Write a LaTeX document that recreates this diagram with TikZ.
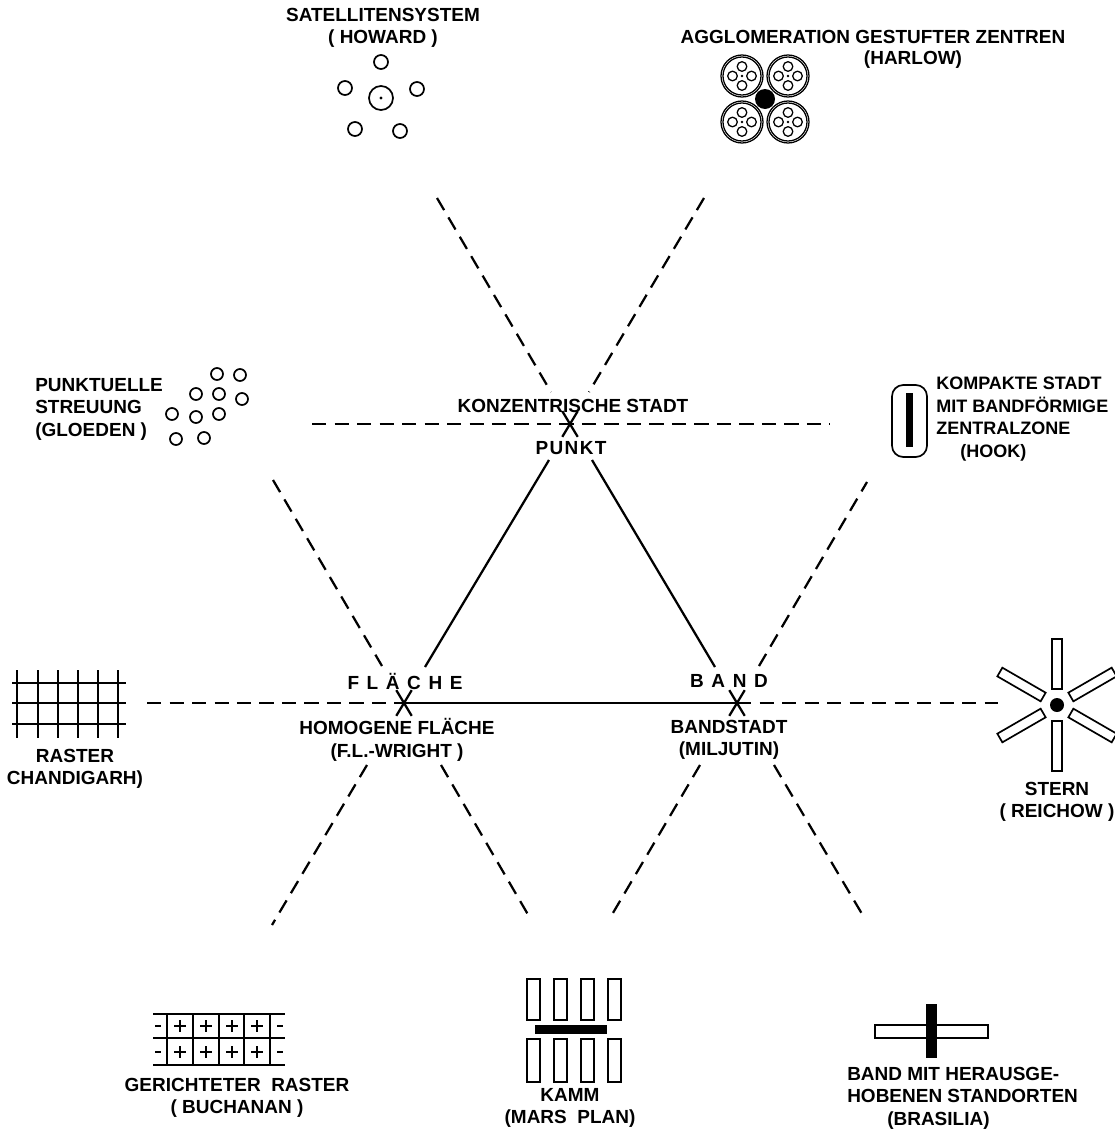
\documentclass[tikz,border=0pt]{standalone}
\usepackage{fontspec}
\setmainfont{Liberation Sans}
\usepackage{tikz}
\usetikzlibrary{calc,positioning}

\newcommand{\lgap}{\hspace{0.19cm}}

\begin{document}
\begin{tikzpicture}[x=0.025cm,y=-0.025cm,
  lab/.style={font=\fontsize{13.5}{16}\selectfont\bfseries, align=center, inner sep=0pt},
  strich/.style={line width=1.6pt, dash pattern=on 10pt off 6pt},
  voll/.style={line width=1.6pt},
  figur/.style={line width=1.2pt}]

\useasboundingbox (0,0) rectangle (1115,1131);

% die drei Grundformen
\coordinate (P) at (570,424);
\coordinate (F) at (404,703);
\coordinate (B) at (737,703);

% Enden der gestrichelten Linien
\coordinate (ol1) at (437,198);  \coordinate (ol2) at (551,392);
\coordinate (or1) at (704,198);  \coordinate (or2) at (589,392);
\coordinate (h1) at (312,424);   \coordinate (h2) at (830,424);
\coordinate (fl1) at (273,480);  \coordinate (fl2) at (382,666);
\coordinate (fu1) at (367,765);  \coordinate (fu2) at (272,925);
\coordinate (fr1) at (441,765);  \coordinate (fr2) at (530,918);
\coordinate (br1) at (759,666);  \coordinate (br2) at (867,482);
\coordinate (bu1) at (700,765);  \coordinate (bu2) at (610,918);
\coordinate (bd1) at (774,765);  \coordinate (bd2) at (865,919);
\coordinate (hl) at (147,703);   \coordinate (hr) at (998,703);
\coordinate (s1) at (549,460);   \coordinate (s2) at (425,667);
\coordinate (s3) at (592,460);   \coordinate (s4) at (715,667);

\draw[strich] (ol1) -- (ol2);
\draw[strich] (or1) -- (or2);
\draw[strich] (h1) -- (h2);
\draw[strich] (fl1) -- (fl2);
\draw[strich] (fu1) -- (fu2);
\draw[strich] (fr1) -- (fr2);
\draw[strich] (br1) -- (br2);
\draw[strich] (bu1) -- (bu2);
\draw[strich] (bd1) -- (bd2);
\draw[strich] (hl) -- (F);
\draw[strich] (B) -- (hr);

\draw[voll] (s1) -- (s2);
\draw[voll] (s3) -- (s4);
\draw[voll] (F) -- (B);

% Kreuze
\foreach \k in {P,F,B}{
  \draw[voll] ($(\k)+(121:15)$) -- ($(\k)+(-59:15)$);
  \draw[voll] ($(\k)+(59:15)$) -- ($(\k)+(-121:15)$);
}

% Beschriftung Mitte
\node[lab] (konz) at (573,406) {KONZENTRISCHE STADT};
\node[lab] (punkt) at (571,448) {P\kern1pt U\kern1pt N\kern1pt K\kern1pt T};
\node[lab] (flaeche) at (405,681) {F\lgap L\lgap Ä\lgap C\lgap H\lgap E};
\node[lab] (band) at (729,681) {B\lgap A\lgap N\lgap D};
\node[lab] (homogen) at (397,740) {HOMOGENE FLÄCHE\\(F.L.-WRIGHT )};
\node[lab] (bandstadt) at (729,740) {BANDSTADT\\(MILJUTIN)};

% Satellitensystem
\node[lab] (satellit) at (383,28) {SATELLITENSYSTEM\\( HOWARD )};
\foreach \p in {(381,62),(345,88),(417,89),(355,129),(400,131)}
  \draw[figur] \p circle (7);
\draw[figur] (381,98) circle (12);
\fill (381,98) circle (1.6);

% Agglomeration
\node[lab] (agglo) at (873,37) {AGGLOMERATION GESTUFTER ZENTREN};
\node[lab] (harlow) at (913,60) {(HARLOW)};
\foreach \cx/\cy in {742/76,788/76,742/122,788/122}{
  \draw[line width=0.9pt] (\cx,\cy) circle (21);
  \draw[line width=0.9pt] (\cx,\cy) circle (19);
  \foreach \w in {0,90,180,270}
    \draw[line width=0.9pt] ($(\cx,\cy)+(\w:9.5)$) circle (4.8);
  \fill (\cx,\cy) circle (1.3);
}
\fill (765,99) circle (10);

% Punktuelle Streuung
\node[lab, align=left, anchor=west] (streuung) at (35,409) {PUNKTUELLE\\STREUUNG\\(GLOEDEN )};
\foreach \p in {(217,374),(240,375),(196,394),(219,394),(242,399),(172,414),(196,417),(219,414),(176,439),(204,438)}
  \draw[figur] \p circle (6);

% Kompakte Stadt
\node[lab, font=\fontsize{12.8}{16}\selectfont\bfseries, align=left, anchor=west] (kompakt) at (936,419) {KOMPAKTE STADT\\MIT BANDFÖRMIGE\\ZENTRALZONE\\\hspace*{0.6cm}(HOOK)};
\draw[figur, rounded corners=8pt] (892,385) rectangle (927,457);
\fill (906,393) rectangle (913,447);

% Raster
\node[lab] (raster) at (75,769) {RASTER\\CHANDIGARH)};
\foreach \x in {17,38,58,78,98,118}
  \draw[figur] (\x,670) -- (\x,738);
\foreach \y in {683,703,724}
  \draw[figur] (12,\y) -- (126,\y);

% Stern
\node[lab] (stern) at (1057,802) {STERN\\( REICHOW )};
\fill (1057,705) circle (7);
\foreach \a in {30,90,150,210,270,330}{
  \begin{scope}[shift={(1057,705)}, rotate=\a]
    \draw[figur] (16,-5) rectangle (66,5);
  \end{scope}
}

% Gerichteter Raster
\node[lab] (gerichtet) at (237,1098) {GERICHTETER\ \ RASTER\\( BUCHANAN )};
\foreach \y in {1014,1038,1065}
  \draw[line width=1.6pt] (153,\y) -- (285,\y);
\foreach \x in {167,193,219,244,270}
  \draw[figur] (\x,1014) -- (\x,1065);
\foreach \y in {1026,1052}{
  \foreach \x in {180,206,232,257}{
    \draw[figur] (\x-6,\y) -- (\x+6,\y);
    \draw[figur] (\x,\y-6) -- (\x,\y+6);
  }
  \draw[figur] (155,\y) -- (161,\y);
  \draw[figur] (277,\y) -- (283,\y);
}

% Kamm
\node[lab] (kamm) at (570,1108) {KAMM\\(MARS\ \ PLAN)};
\foreach \x in {527,554,581,608}{
  \draw[figur] (\x,979) rectangle (\x+13,1020);
  \draw[figur] (\x,1039) rectangle (\x+13,1082);
}
\fill (535,1025) rectangle (607,1034);

% Brasilia
\node[lab, align=left, anchor=west] (brasilia) at (847,1098) {BAND MIT HERAUSGE-\\HOBENEN STANDORTEN\\\hspace*{1cm}(BRASILIA)};
\draw[figur] (875,1025) rectangle (988,1038);
\fill (926,1004) rectangle (937,1058);

\end{tikzpicture}
\end{document}
